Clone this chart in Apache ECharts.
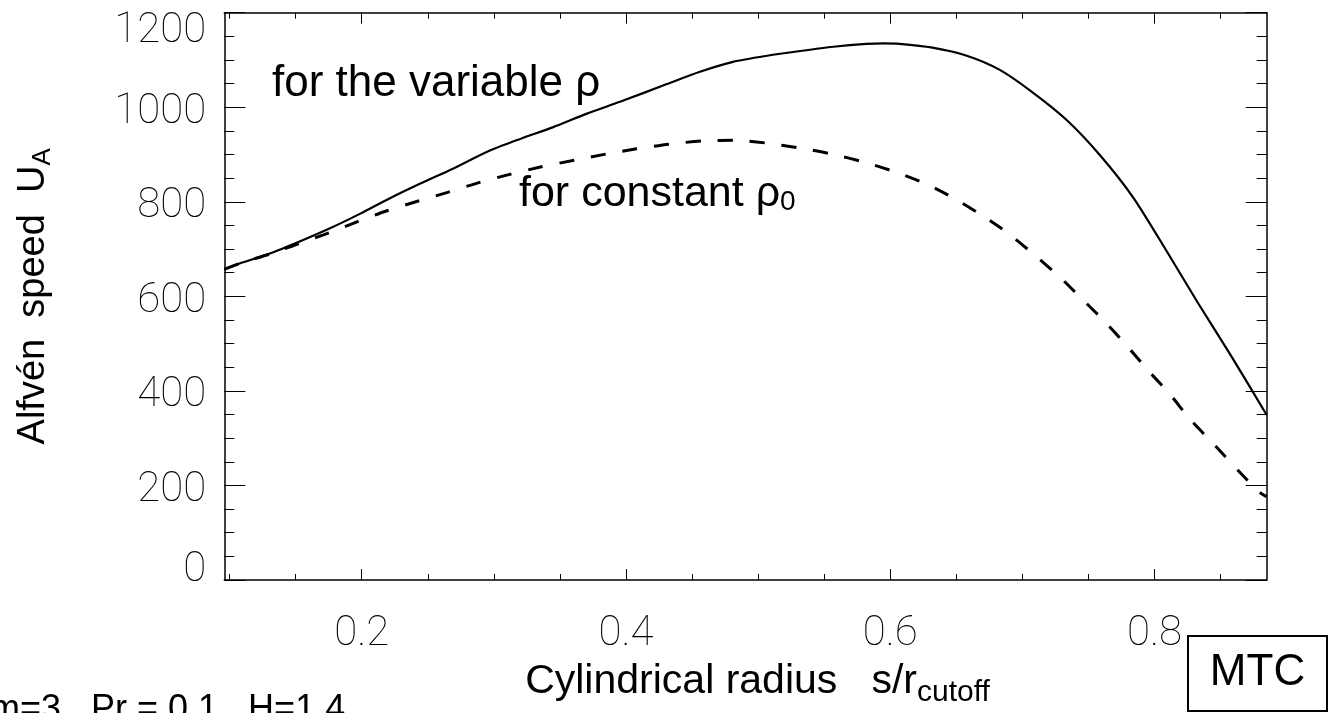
<!DOCTYPE html>
<html>
<head>
<meta charset="utf-8">
<script src="https://cdn.jsdelivr.net/npm/echarts@6/dist/echarts.min.js"></script>
<style>
  html, body { margin: 0; padding: 0; background: #fff; }
  #chart { width: 1333px; height: 713px; }
</style>
</head>
<body>
<div id="chart"></div>
<script>
// Alfvén speed profiles versus cylindrical radius s/r_cutoff
const radiusVariable = [0.096, 0.108, 0.131, 0.153, 0.176, 0.199, 0.221, 0.244, 0.269, 0.295, 0.320, 0.345, 0.370, 0.396, 0.431, 0.456, 0.481, 0.507, 0.532, 0.557, 0.582, 0.595, 0.607, 0.632, 0.658, 0.683, 0.708, 0.734, 0.759, 0.784, 0.809, 0.833, 0.859, 0.885];
const speedVariable  = [657, 670, 691, 716, 744, 775, 807, 838, 870, 906, 933, 958, 986, 1012, 1049, 1075, 1096, 1109, 1119, 1128, 1134, 1135, 1134, 1126, 1109, 1079, 1031, 972, 898, 809, 697, 586, 470, 349];

const radiusConstant = [0.096, 0.108, 0.131, 0.148, 0.171, 0.195, 0.218, 0.241, 0.265, 0.288, 0.312, 0.336, 0.361, 0.385, 0.408, 0.433, 0.459, 0.483, 0.507, 0.531, 0.556, 0.580, 0.604, 0.627, 0.648, 0.668, 0.690, 0.709, 0.728, 0.745, 0.763, 0.779, 0.795, 0.812, 0.827, 0.844, 0.878, 0.885];
const speedConstant  = [657, 670, 690, 707, 730, 756, 780, 800, 820, 840, 858, 874, 888, 901, 912, 922, 929, 930, 924, 914, 901, 884, 863, 838, 808, 774, 732, 688, 642, 595, 545, 496, 444, 392, 340, 290, 189, 176];

const xRange = [0.096, 0.885];
const xMajorTicks = [0.2, 0.4, 0.6, 0.8];
const xMinorTicks = [0.1, 0.15, 0.25, 0.3, 0.35, 0.45, 0.5, 0.55, 0.65, 0.7, 0.75, 0.85];
const yRange = [0, 1200];
const yStep = 200;

const TEXT_FONT = '"Liberation Sans", Arial, sans-serif';
const TICK_FONT = 'Roboto, "DejaVu Sans", sans-serif';
const tickLabelStyle = { fontFamily: TICK_FONT, fontWeight: 100, fontSize: 42, color: '#000' };

const pairs = (xs, ys) => xs.map((x, i) => [x, ys[i]]);

function xAxisDef(position, ticks, length, withLine, withLabels) {
  return {
    type: 'value', position: position, min: xRange[0], max: xRange[1],
    axisLine: { show: withLine, onZero: false, lineStyle: { color: '#000', width: 1.5 } },
    axisTick: { show: true, inside: true, length: length, customValues: ticks, lineStyle: { color: '#000', width: 1 } },
    axisLabel: withLabels ? Object.assign({
      show: true, customValues: ticks, margin: 33,
      formatter: v => v.toFixed(1)
    }, tickLabelStyle) : { show: false },
    splitLine: { show: false }
  };
}

function yAxisDef(position, withLabels) {
  return {
    type: 'value', position: position, min: yRange[0], max: yRange[1], interval: yStep,
    axisLine: { show: true, onZero: false, lineStyle: { color: '#000', width: 1.5 } },
    axisTick: { show: true, inside: true, length: 21, lineStyle: { color: '#000', width: 1 } },
    minorTick: { show: true, splitNumber: 4, length: 10, lineStyle: { color: '#000', width: 1 } },
    axisLabel: withLabels ? {
      show: true, margin: 18,
      formatter: v => v === yRange[0] ? '{lo|' + v + '}' : (v === yRange[1] ? '{hi|' + v + '}' : '{n|' + v + '}'),
      rich: {
        n:  Object.assign({ padding: [10, 0, 0, 0] }, tickLabelStyle),
        lo: Object.assign({ padding: [0, 0, 19, 0] }, tickLabelStyle),
        hi: Object.assign({ padding: [38, 0, 0, 0] }, tickLabelStyle)
      }
    } : { show: false },
    splitLine: { show: false },
    minorSplitLine: { show: false }
  };
}

const xAxes = [
  xAxisDef('bottom', xMajorTicks, 11, true, true),
  xAxisDef('bottom', xMinorTicks, 6, false, false),
  xAxisDef('top', xMajorTicks, 11, true, false),
  xAxisDef('top', xMinorTicks, 6, false, false)
];
xAxes[0].name = '{m|Cylindrical radius   s/r}{s|cutoff}';
xAxes[0].nameLocation = 'middle';
xAxes[0].nameGap = 76;
xAxes[0].nameTextStyle = {
  rich: {
    m: { fontFamily: TEXT_FONT, fontSize: 41, color: '#000', padding: [0, 0, 0, 24] },
    s: { fontFamily: TEXT_FONT, fontSize: 30, color: '#000', padding: [22, 0, 0, 0] }
  }
};

const yAxes = [yAxisDef('left', true), yAxisDef('right', false)];
yAxes[0].name = '{m|Alfvén  speed  U}{s|A}';
yAxes[0].nameLocation = 'middle';
yAxes[0].nameRotate = 90;
yAxes[0].nameGap = 168;
yAxes[0].nameTextStyle = {
  rich: {
    m: { fontFamily: TEXT_FONT, fontSize: 38, color: '#000' },
    s: { fontFamily: TEXT_FONT, fontSize: 26, color: '#000', padding: [20, 0, 0, 0] }
  }
};

const chart = echarts.init(document.getElementById('chart'), null, { renderer: 'canvas' });
chart.setOption({
  animation: false,
  backgroundColor: '#fff',
  grid: { left: 224.3, right: 66.3, top: 12.7, bottom: 129.7, containLabel: false },
  xAxis: xAxes,
  yAxis: yAxes,
  series: [
    {
      name: 'for the variable ρ', type: 'line', xAxisIndex: 0, yAxisIndex: 0,
      data: pairs(radiusVariable, speedVariable), showSymbol: false, smooth: 0.25,
      lineStyle: { color: '#000', width: 2.2, type: 'solid' }, clip: true
    },
    {
      name: 'for constant ρ0', type: 'line', xAxisIndex: 0, yAxisIndex: 0,
      data: pairs(radiusConstant, speedConstant), showSymbol: false, smooth: 0.25,
      lineStyle: { color: '#000', width: 3, type: [15, 17] }, clip: true
    }
  ],
  graphic: [
    { type: 'text', x: 272, y: 84, style: { text: 'for the variable ρ', fontFamily: TEXT_FONT, fontSize: 44, fill: '#000', verticalAlign: 'middle' } },
    { type: 'text', x: 519, y: 194, style: {
        text: '{m|for constant ρ}{s|0}', verticalAlign: 'middle',
        rich: {
          m: { fontFamily: TEXT_FONT, fontSize: 43, fill: '#000' },
          s: { fontFamily: TEXT_FONT, fontSize: 28, fill: '#000', padding: [16, 0, 0, 0] }
        }
      } },
    { type: 'text', x: -10, y: 710, style: { text: 'm=3,  Pr = 0.1,  H=1.4', fontFamily: TEXT_FONT, fontSize: 36, fill: '#000', verticalAlign: 'middle' } },
    { type: 'rect', shape: { x: 1188, y: 636, width: 139, height: 75 }, style: { fill: '#fff', stroke: '#000', lineWidth: 2 } },
    { type: 'text', x: 1257.5, y: 673, style: { text: 'MTC', fontFamily: TEXT_FONT, fontSize: 44, fill: '#000', align: 'center', verticalAlign: 'middle' } }
  ]
});
</script>
</body>
</html>
